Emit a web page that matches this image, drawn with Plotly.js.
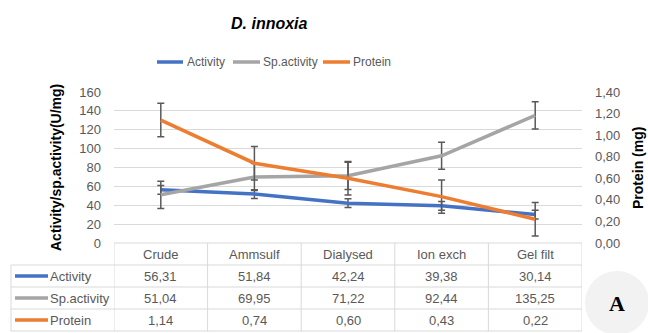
<!DOCTYPE html>
<html>
<head>
<meta charset="utf-8">
<script src="https://cdn.plot.ly/plotly-3.0.1.min.js"></script>
<style>
  html, body { margin: 0; padding: 0; background: #fff; }
  #chart { width: 648px; height: 333px; }
</style>
</head>
<body>
<div id="chart"></div>
<script>
// Purification steps and measured values
const categories = ['Crude', 'Ammsulf', 'Dialysed', 'Ion exch', 'Gel filt'];
const activity   = [56.31, 51.84, 42.24, 39.38, 30.14];
const spActivity = [51.04, 69.95, 71.22, 92.44, 135.25];
const protein    = [1.14, 0.74, 0.60, 0.43, 0.22];

// Standard-error bar size for each series
const activityErr   = 4.63;
const spActivityErr = 14.4;
const proteinErr    = 0.155;

const seriesNames  = ['Activity', 'Sp.activity', 'Protein'];
const seriesColors = ['#4472C4', '#A5A5A5', '#ED7D31'];

const W = 648, H = 333;
const M = { l: 114, r: 66, t: 92, b: 90 };
const PW = W - M.l - M.r, PH = H - M.t - M.b;
const px2x = px => (px - M.l) / PW;
const py2y = py => (H - M.b - py) / PH;

const FONT = 'Liberation Sans, Arial, sans-serif';
const GREY_TXT = '#595959';
const GRID = '#D9D9D9';
const fmt = v => v.toFixed(2).replace('.', ',');

function errBar(v) {
  return { type: 'constant', value: v, color: '#595959', thickness: 1.5, width: 3.5 };
}

const traces = [
  { x: categories, y: activity, name: seriesNames[0], type: 'scatter', mode: 'lines',
    line: { color: seriesColors[0], width: 3.5 }, error_y: errBar(activityErr), yaxis: 'y' },
  { x: categories, y: spActivity, name: seriesNames[1], type: 'scatter', mode: 'lines',
    line: { color: seriesColors[1], width: 3.5 }, error_y: errBar(spActivityErr), yaxis: 'y' },
  { x: categories, y: protein, name: seriesNames[2], type: 'scatter', mode: 'lines',
    line: { color: seriesColors[2], width: 3.5 }, error_y: errBar(proteinErr), yaxis: 'y2' }
];

const shapes = [];
const annotations = [];

// Title
annotations.push({ xref: 'paper', yref: 'paper', x: px2x(269), y: py2y(23),
  text: '<b><i>D. innoxia</i></b>', showarrow: false,
  font: { family: FONT, size: 16, color: '#000' }, xanchor: 'center', yanchor: 'middle' });

// Top legend
const legendItems = [
  { x0: 157, x1: 183, tx: 185 },
  { x0: 233, x1: 260, tx: 261 },
  { x0: 323, x1: 350, tx: 351 }
];
legendItems.forEach((it, i) => {
  shapes.push({ type: 'line', xref: 'paper', yref: 'paper',
    x0: px2x(it.x0), x1: px2x(it.x1), y0: py2y(62), y1: py2y(62),
    line: { color: seriesColors[i], width: 3.5 } });
  annotations.push({ xref: 'paper', yref: 'paper', x: px2x(it.tx), y: py2y(62),
    text: seriesNames[i], showarrow: false, xanchor: 'left', yanchor: 'middle',
    font: { family: FONT, size: 12, color: GREY_TXT } });
});

// Axis titles
annotations.push({ xref: 'paper', yref: 'paper', x: px2x(56), y: py2y(168),
  text: '<b>Activity/sp.activity(U/mg)</b>', textangle: -90, showarrow: false,
  xanchor: 'center', yanchor: 'middle', font: { family: FONT, size: 14, color: '#000' } });
annotations.push({ xref: 'paper', yref: 'paper', x: px2x(638), y: py2y(168),
  text: '<b>Protein (mg)</b>', textangle: -90, showarrow: false,
  xanchor: 'center', yanchor: 'middle', font: { family: FONT, size: 14, color: '#000' } });

// Data table below the plot
const rowLines = [243, 265, 287, 309, 331];
const rowMid = [254, 276, 298, 320];
const tableLeft = 11, tableRight = M.l + PW;
const lineStyle = { color: GRID, width: 1 };

// horizontal lines across the category columns
rowLines.forEach((py, k) => {
  shapes.push({ type: 'line', xref: 'paper', yref: 'paper',
    x0: px2x(k === 0 ? M.l : tableLeft), x1: px2x(tableRight),
    y0: py2y(py), y1: py2y(py), line: lineStyle });
});
// vertical lines between categories
for (let i = 0; i <= categories.length; i++) {
  shapes.push({ type: 'line', xref: 'x', yref: 'paper',
    x0: i - 0.5, x1: i - 0.5, y0: py2y(rowLines[0]), y1: py2y(rowLines[4]), line: lineStyle });
}
// left edge of the series-name column
shapes.push({ type: 'line', xref: 'paper', yref: 'paper',
  x0: px2x(tableLeft), x1: px2x(tableLeft), y0: py2y(rowLines[1]), y1: py2y(rowLines[4]), line: lineStyle });

// header row
categories.forEach(c => {
  annotations.push({ xref: 'x', yref: 'paper', x: c, y: py2y(rowMid[0]), text: c,
    showarrow: false, xanchor: 'center', yanchor: 'middle',
    font: { family: FONT, size: 13, color: GREY_TXT } });
});

// value rows
const rows = [activity, spActivity, protein];
rows.forEach((vals, r) => {
  const py = rowMid[r + 1];
  shapes.push({ type: 'line', xref: 'paper', yref: 'paper',
    x0: px2x(15), x1: px2x(48), y0: py2y(py), y1: py2y(py),
    line: { color: seriesColors[r], width: 3.5 } });
  annotations.push({ xref: 'paper', yref: 'paper', x: px2x(48), y: py2y(py),
    text: seriesNames[r], showarrow: false, xanchor: 'left', yanchor: 'middle',
    font: { family: FONT, size: 13, color: GREY_TXT } });
  vals.forEach((v, i) => {
    annotations.push({ xref: 'x', yref: 'paper', x: categories[i], y: py2y(py),
      text: fmt(v), showarrow: false, xanchor: 'center', yanchor: 'middle',
      font: { family: FONT, size: 13, color: GREY_TXT } });
  });
});

// Panel badge
shapes.push({ type: 'circle', xref: 'paper', yref: 'paper',
  x0: px2x(585), x1: px2x(649), y0: py2y(271), y1: py2y(335),
  fillcolor: '#F2F2F2', line: { width: 0 }, layer: 'below' });
annotations.push({ xref: 'paper', yref: 'paper', x: px2x(617), y: py2y(303),
  text: '<b>A</b>', showarrow: false, xanchor: 'center', yanchor: 'middle',
  font: { family: 'Liberation Serif, Times New Roman, serif', size: 22, color: '#000' } });

const layout = {
  width: W, height: H,
  margin: M,
  paper_bgcolor: '#fff', plot_bgcolor: 'rgba(0,0,0,0)',
  separators: ', ',
  showlegend: false,
  font: { family: FONT, size: 13, color: GREY_TXT },
  xaxis: {
    type: 'category', range: [-0.5, 4.5], showticklabels: false, showgrid: false,
    zeroline: false, showline: false, ticks: '', fixedrange: true
  },
  yaxis: {
    range: [0, 160], dtick: 20, tick0: 0, showgrid: true, gridcolor: GRID, gridwidth: 1,
    zeroline: false, showline: false, ticks: '', ticklabelstandoff: 12,
    tickfont: { family: FONT, size: 13, color: GREY_TXT }
  },
  yaxis2: {
    overlaying: 'y', side: 'right', range: [0, 1.4], dtick: 0.2, tick0: 0,
    tickformat: '.2f', showgrid: false, zeroline: false, showline: false, ticks: '',
    ticklabelstandoff: 12, tickfont: { family: FONT, size: 13, color: GREY_TXT }
  },
  shapes: shapes,
  annotations: annotations
};

Plotly.newPlot('chart', traces, layout, { displayModeBar: false, staticPlot: true });
</script>
</body>
</html>
